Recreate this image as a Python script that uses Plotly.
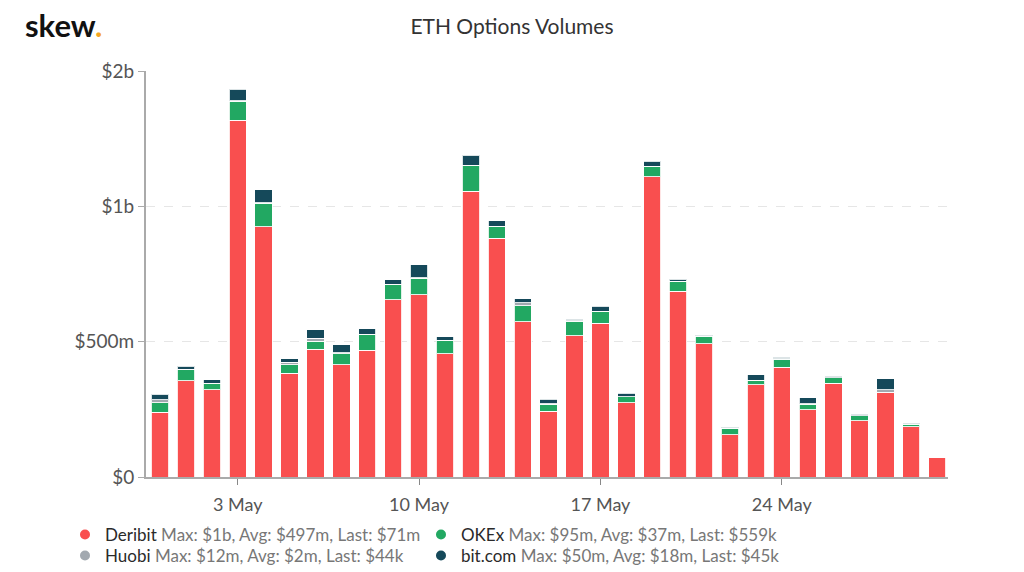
import pandas as pd
import plotly.graph_objects as go

dates = pd.date_range("2021-04-30", "2021-05-30", freq="D")

# values in $ millions
deribit = [239, 356, 323, 1318, 925, 384, 472, 415, 469, 654, 673, 456, 1055, 883, 573, 243,
           522, 568, 275, 1110, 687, 493, 157, 341, 405, 249, 346, 208, 311, 186, 71]
okex = [35, 41, 22, 71, 87, 31, 30, 41, 57, 56, 61, 48, 95, 41, 59, 26,
        54, 44, 21, 37, 36, 27, 23, 16, 30, 19, 20, 18, 3, 9, 0.559]
huobi = [11, 2, 2, 2, 2, 9, 11, 3, 2, 2, 2, 2, 2, 2, 11, 2,
         1, 1, 1, 1, 1, 2, 1, 1, 1, 2, 1, 1, 9, 1, 0.044]
bitcom = [21, 11, 13, 41, 48, 12, 31, 30, 19, 17, 48, 13, 36, 20, 16, 17,
          6, 17, 13, 18, 6, 4, 2, 20, 6, 23, 5, 5, 40, 2, 0.045]

series = [
    ("Deribit", deribit, "#f94f4f", "Max: $1b, Avg: $497m, Last: $71m"),
    ("OKEx", okex, "#22a862", "Max: $95m, Avg: $37m, Last: $559k"),
    ("Huobi", huobi, "#a2a9b0", "Max: $12m, Avg: $2m, Last: $44k"),
    ("bit.com", bitcom, "#15495a", "Max: $50m, Avg: $18m, Last: $45k"),
]

y_tickvals = [0, 500, 1000, 1500]
y_ticktext = ["$0", "$500m", "$1b", "$2b"]
x_tickvals = ["2021-05-03", "2021-05-10", "2021-05-17", "2021-05-24"]
x_ticktext = ["3 May", "10 May", "17 May", "24 May"]

L, R, T, B = 146, 76, 71, 95
pw = 1024 - L - R
ph = 572 - T - B

def px_x(x):
    return (x - L) / pw

def px_y(y):
    return (572 - B - y) / ph

legend_ids = ["legend", "legend2", "legend3", "legend4"]
legend_pos = [(65, 535), (421, 535), (65, 556), (421, 556)]

fig = go.Figure()
for name, vals, color, stats in series:
    fig.add_trace(go.Bar(
        x=dates, y=vals, name=name, marker_color=color,
        marker_line_color="rgba(255,255,255,0.85)", marker_line_width=1,
        showlegend=False,
    ))

# legend entries (circle symbols), one legend box per entry
for (name, vals, color, stats), lg in zip(series, legend_ids):
    fig.add_trace(go.Scatter(
        x=[None], y=[None], mode="markers",
        marker=dict(color=color, size=10, symbol="circle"),
        name=f"<span style='color:#2a2a2a'>{name}</span> <span style='color:#777'>{stats}</span>",
        showlegend=True, legend=lg,
    ))

legend_layout = {}
for lg, (lx, ly) in zip(legend_ids, legend_pos):
    legend_layout[lg] = dict(
        x=px_x(lx), y=px_y(ly), xanchor="left", yanchor="middle",
        orientation="h",
        font=dict(family="Lato", size=17, color="#333"),
        bgcolor="rgba(0,0,0,0)",
    )

fig.update_layout(
    width=1024, height=572,
    barmode="stack", bargap=0.33,
    plot_bgcolor="white", paper_bgcolor="white",
    font=dict(family="Lato", size=16, color="#555"),
    margin=dict(l=L, r=R, t=T, b=B, autoexpand=False),
    title=dict(text="ETH Options Volumes", x=0.5, xanchor="center", y=1 - 27 / 572, yanchor="middle",
               font=dict(family="Lato", size=21, color="#333")),
    xaxis=dict(
        type="date",
        range=["2021-04-29 11:00", "2021-05-30 10:00"],
        tickvals=x_tickvals, ticktext=x_ticktext,
        showline=True, linecolor="#aaaaaa", linewidth=2,
        ticks="outside", ticklen=6, tickcolor="#888", tickwidth=1,
        ticklabelstandoff=4,
        showgrid=False, zeroline=False,
        tickfont=dict(size=18, color="#555"),
    ),
    yaxis=dict(
        range=[0, 1500],
        tickvals=y_tickvals, ticktext=y_ticktext,
        showline=True, linecolor="#aaaaaa", linewidth=2,
        ticks="outside", ticklen=6, tickcolor="#aaaaaa",
        showgrid=True, gridcolor="#e6e6e6", griddash="dash", gridwidth=1,
        zeroline=False,
        tickfont=dict(size=19, color="#555"),
    ),
    annotations=[dict(
        text="<b>skew</b><span style='color:#f5a623'><b>.</b></span>",
        xref="paper", yref="paper", x=px_x(23), y=px_y(25), xanchor="left", yanchor="middle",
        showarrow=False,
        font=dict(family="Lato", size=31, color="#111"),
    )],
    **legend_layout,
)

fig.write_html("out.html", config={"displayModeBar": False},
               post_script="document.body.style.margin='0';document.body.style.padding='0';")
